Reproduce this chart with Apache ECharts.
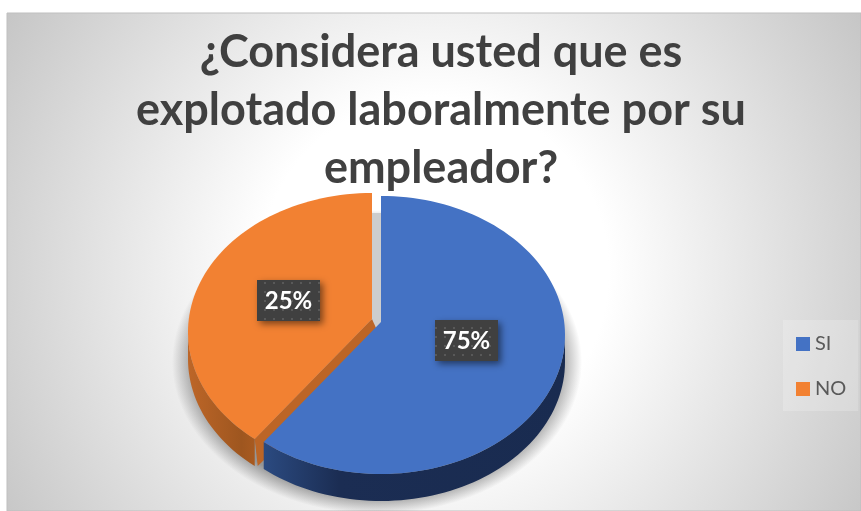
<!DOCTYPE html>
<html>
<head>
<meta charset="utf-8">
<style>
    html, body { margin: 0; padding: 0; background: #fff; }
    #chart { width: 861px; height: 511px; }
</style>
</head>
<body>
<div id="chart"></div>
<script src="https://cdn.jsdelivr.net/npm/echarts@6/dist/echarts.min.js"></script>
<script>
const categories = ['SI', 'NO']
// the printed labels say 75/25, the slices as drawn are closer to 61/39
const labelValues = [75, 25]
const drawnShares = [61, 39]
const topColors = ['#4472c4', '#f28132']
const titleLines = ['¿Considera usted que es', 'explotado laboralmente por su', 'empleador?']

const FONT = 'Lato, sans-serif'
const RX = 184
const RY = 139
const DEPTH = 27
const APEX_UP = 13
// each slice is pulled apart a little, so it has its own centre
const centers = [[381, 335], [372, 332]]
const labelBoxes = [[435, 320], [257, 280]]

function dotPattern () {
    const c = document.createElement('canvas')
    c.width = 9
    c.height = 9
    const g = c.getContext('2d')
    g.fillStyle = '#404040'
    g.fillRect(0, 0, 9, 9)
    g.fillStyle = '#595959'
    g.fillRect(3, 3, 2, 2)
    return c
}
const pattern = dotPattern()

function onEllipse (c, deg, dy) {
    const a = deg * Math.PI / 180
    return [c[0] + RX * Math.sin(a), c[1] - RY * Math.cos(a) + (dy || 0)]
}

function arc (c, from, to, dy) {
    const pts = []
    const n = Math.max(2, Math.ceil(Math.abs(to - from) / 2))
    for (let i = 0; i <= n; i++) {
        pts.push(onEllipse(c, from + (to - from) * i / n, dy))
    }
    return pts
}

function sideGradient (stops) {
    return new echarts.graphic.LinearGradient(0, 0, 1, 0, stops)
}

function renderSlice (params, api) {
    const i = params.seriesIndex
    const start = api.value(0) / 100 * 360
    const end = api.value(1) / 100 * 360
    const c = centers[i]
    const apex = [c[0], c[1] - APEX_UP]
    const tip = onEllipse(c, i === 0 ? end : start)
    const children = []

    if (i === 1) {
        // cut face of the orange slice, the blue slice covers most of it
        children.push({
            type: 'polygon',
            shape: { points: [apex, tip, [tip[0] + 3, tip[1] + DEPTH], [apex[0] + 12, apex[1] + DEPTH]] },
            style: { fill: '#bc6526' }
        })
    }

    // outer wall, only the front part of the rim
    const wallFrom = Math.max(start, 90)
    const wallTo = Math.min(end, 270)
    const wall = arc(c, wallFrom, wallTo, 0).concat(arc(c, wallTo, wallFrom, DEPTH))
    children.push({
        type: 'polygon',
        shape: { points: wall },
        style: {
            fill: i === 0
                ? sideGradient([{ offset: 0, color: '#2b4a80' }, { offset: 0.25, color: '#1b2d53' }, { offset: 1, color: '#192b50' }])
                : sideGradient([{ offset: 0, color: '#bd6628' }, { offset: 0.8, color: '#9e561f' }, { offset: 1, color: '#a85a20' }])
        }
    })

    children.push({
        type: 'polygon',
        shape: { points: [apex].concat(arc(c, start, end, 0)) },
        style: { fill: topColors[i] }
    })

    const box = labelBoxes[i]
    children.push({
        type: 'rect',
        shape: { x: box[0], y: box[1], width: 63, height: 41 },
        style: {
            fill: { image: pattern, repeat: 'repeat' },
            shadowBlur: 7,
            shadowOffsetX: 3,
            shadowOffsetY: 3,
            shadowColor: 'rgba(0,0,0,0.5)'
        }
    })
    children.push({
        type: 'text',
        style: {
            text: labelValues[i] + '%',
            x: box[0] + 31.5,
            y: box[1] + 21,
            align: 'center',
            verticalAlign: 'middle',
            fill: '#fff',
            font: 'bold 24px ' + FONT
        }
    })
    return { type: 'group', children: children }
}

let running = 0
const sliceSeries = categories.map(function (name, i) {
    const from = running
    running += drawnShares[i]
    return {
        type: 'custom',
        name: name,
        coordinateSystem: 'none',
        silent: true,
        z: 3 - i,
        itemStyle: { color: topColors[i] },
        renderItem: renderSlice,
        data: [[from, running]]
    }
})

const chart = echarts.init(document.getElementById('chart'))
chart.setOption({
    animation: false,
    backgroundColor: '#fff',
    title: {
        text: titleLines.join('\n'),
        left: 436,
        top: 18,
        textAlign: 'center',
        textStyle: {
            color: '#404040',
            fontFamily: FONT,
            fontWeight: 'bold',
            fontSize: 45,
            lineHeight: 58
        }
    },
    legend: {
        orient: 'vertical',
        left: 783,
        top: 320,
        padding: [14, 12, 12, 13],
        backgroundColor: 'rgba(255,255,255,0.2)',
        itemWidth: 14,
        itemHeight: 14,
        itemGap: 25,
        icon: 'rect',
        data: categories,
        selectedMode: false,
        textStyle: { color: '#595959', fontFamily: FONT, fontSize: 20 }
    },
    graphic: [
        {
            type: 'rect',
            z: -10,
            shape: { x: 7, y: 13, width: 854, height: 498 },
            style: {
                fill: new echarts.graphic.RadialGradient(0.5, 0.52, 1, [
                    { offset: 0, color: '#ffffff' },
                    { offset: 0.35, color: '#ffffff' },
                    { offset: 1, color: '#c6c6c6' }
                ]),
                stroke: '#bfbfbf',
                lineWidth: 1
            }
        },
        {
            // soft shadow under the pie, a circle squashed into an ellipse
            type: 'circle',
            z: -5,
            x: 377,
            y: 362,
            scaleX: 205 / 152,
            shape: { cx: 0, cy: 0, r: 152 },
            style: {
                fill: new echarts.graphic.RadialGradient(0.5, 0.5, 0.5, [
                    { offset: 0, color: 'rgba(110,110,110,0.7)' },
                    { offset: 0.88, color: 'rgba(110,110,110,0.7)' },
                    { offset: 1, color: 'rgba(110,110,110,0)' }
                ])
            }
        },
        {
            type: 'rect',
            z: -4,
            shape: { x: 371, y: 213, width: 11, height: 117 },
            style: { fill: '#cdcdcd' }
        }
    ],
    series: sliceSeries
})
</script>
</body>
</html>
